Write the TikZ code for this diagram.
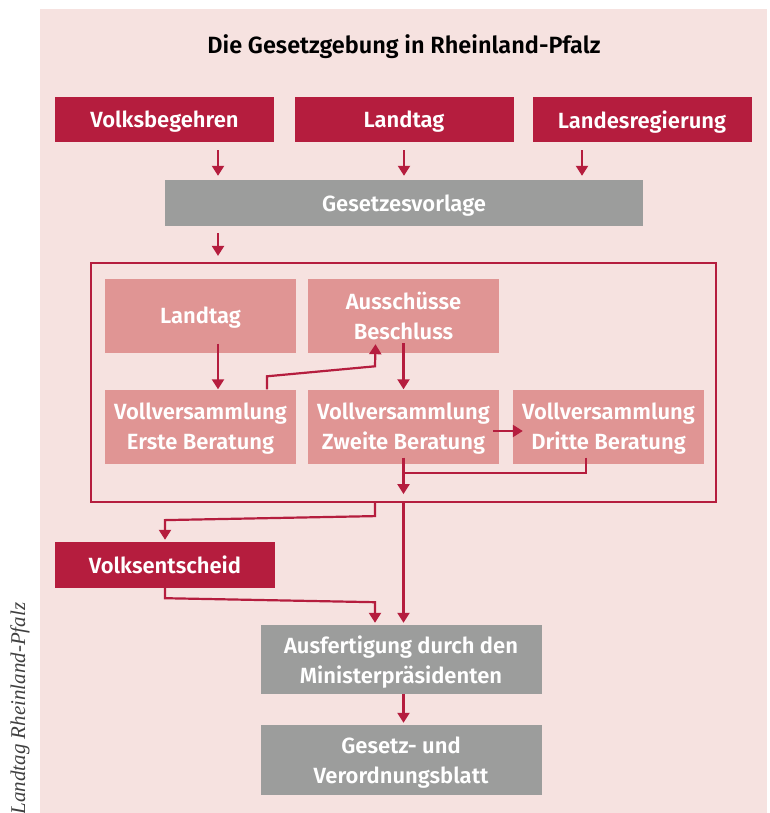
\documentclass[tikz,border=0pt]{standalone}
\usepackage{fontspec}
\setmainfont{Fira Sans}[BoldFont={Fira Sans SemiBold}]
\newfontfamily\notefont{Liberation Serif}
\usetikzlibrary{arrows.meta}
\definecolor{rlpred}{HTML}{B51D3E}
\definecolor{rlpbg}{HTML}{F6E2E0}
\definecolor{rlprose}{HTML}{E09594}
\definecolor{rlpgrey}{HTML}{9C9D9C}
\begin{document}
\begin{tikzpicture}[x=1pt,y=-1pt,
  box/.style={inner sep=0pt,align=center,text depth=0pt,text=white,font=\bfseries\fontsize{22}{30}\selectfont},
  redbox/.style={box,fill=rlpred,minimum width=219pt,minimum height=45pt},
  greybox/.style={box,fill=rlpgrey},
  rosebox/.style={box,fill=rlprose,minimum width=191pt,minimum height=74pt},
  line/.style={draw=rlpred,line width=2.2pt},
  arr/.style={line,-{Triangle[width=12pt,length=10pt]}}]

\useasboundingbox (0,0) rectangle (769,813);
\fill[rlpbg] (40,9) rectangle (767,813);

\node [font=\bfseries\fontsize{23.5}{26}\selectfont] (title) at (404,47) {Die Gesetzgebung in Rheinland-Pfalz};

\node [redbox] (volksbegehren) at (164.5,119.5) {Volksbegehren};
\node [redbox] (landtag) at (404,119.5) {Landtag};
\node [redbox] (landesregierung) at (642,119.5) {Landesregierung};

\node [greybox,minimum width=478pt,minimum height=46pt] (vorlage) at (404,203) {Gesetzesvorlage};

\node [draw=rlpred,line width=2.2pt,minimum width=625pt,minimum height=239pt] (frame) at (403.5,382.5) {};

\node [rosebox] (landtag-plenum) at (200.5,315.5) {Landtag};
\node [rosebox] (ausschuesse) at (403.5,315.5) {Ausschüsse\\Beschluss};
\node [rosebox] (erste) at (200.5,426.5) {Vollversammlung\\Erste Beratung};
\node [rosebox] (zweite) at (403.5,426.5) {Vollversammlung\\Zweite Beratung};
\node [rosebox] (dritte) at (608.5,426.5) {Vollversammlung\\Dritte Beratung};

\node [redbox,minimum width=220pt,minimum height=46pt] (volksentscheid) at (165,565) {Volksentscheid};

\node [greybox,minimum width=281pt,minimum height=69pt] (ausfertigung) at (401,659.5) {Ausfertigung durch den\\Ministerpräsidenten};
\node [greybox,minimum width=281pt,minimum height=70pt] (gesetzblatt) at (401,760) {Gesetz- und\\Verordnungsblatt};

\node [rotate=90,anchor=base west,text=black!75,font=\notefont\itshape\fontsize{21}{24}\selectfont] (quelle) at (25,818) {Landtag Rheinland-Pfalz};

\draw [arr] ([xshift=53.5,yshift=-8]volksbegehren.south) -- ([xshift=-186,yshift=4]vorlage.north);
\draw [arr] ([yshift=-8]landtag.south) -- ([yshift=4]vorlage.north);
\draw [arr] ([xshift=-60,yshift=-8]landesregierung.south) -- ([xshift=178,yshift=4]vorlage.north);
\draw [arr] ([xshift=-186,yshift=-7]vorlage.south) -- ([xshift=-185.5,yshift=6]frame.north);

\draw [arr] ([xshift=17.5,yshift=9]landtag-plenum.south) -- ([xshift=17.5]erste.north);
\draw [arr] ([xshift=66.5]erste.north) -- ++(0,-13) -- ++(108,-10) -- ([xshift=-28,yshift=8.5]ausschuesse.south);
\draw [arr] ([yshift=9.5]ausschuesse.south) -- (zweite.north);
\draw [arr] ([xshift=-6,yshift=-4.5]zweite.east) -- ([xshift=10,yshift=-4.5]dritte.west);
\draw [line] ([xshift=-22.5,yshift=6]dritte.south) |- ([yshift=-9]zweite.south);
\draw [arr] ([yshift=6]zweite.south) -- ([yshift=9]frame.south);

\draw [arr] ([xshift=-28.5]frame.south) -- ++(0,13) -- ++(-210,4) -- ([yshift=2]volksentscheid.north);
\draw [arr] (frame.south) -- ([xshift=2.5,yshift=2]ausfertigung.north);
\draw [arr] (volksentscheid.south) -- ++(0,10) -- ++(210,4) -- ([xshift=-26,yshift=2]ausfertigung.north);
\draw [arr] ([xshift=2.5]ausfertigung.south) -- ([xshift=2.5,yshift=2]gesetzblatt.north);

\end{tikzpicture}
\end{document}
